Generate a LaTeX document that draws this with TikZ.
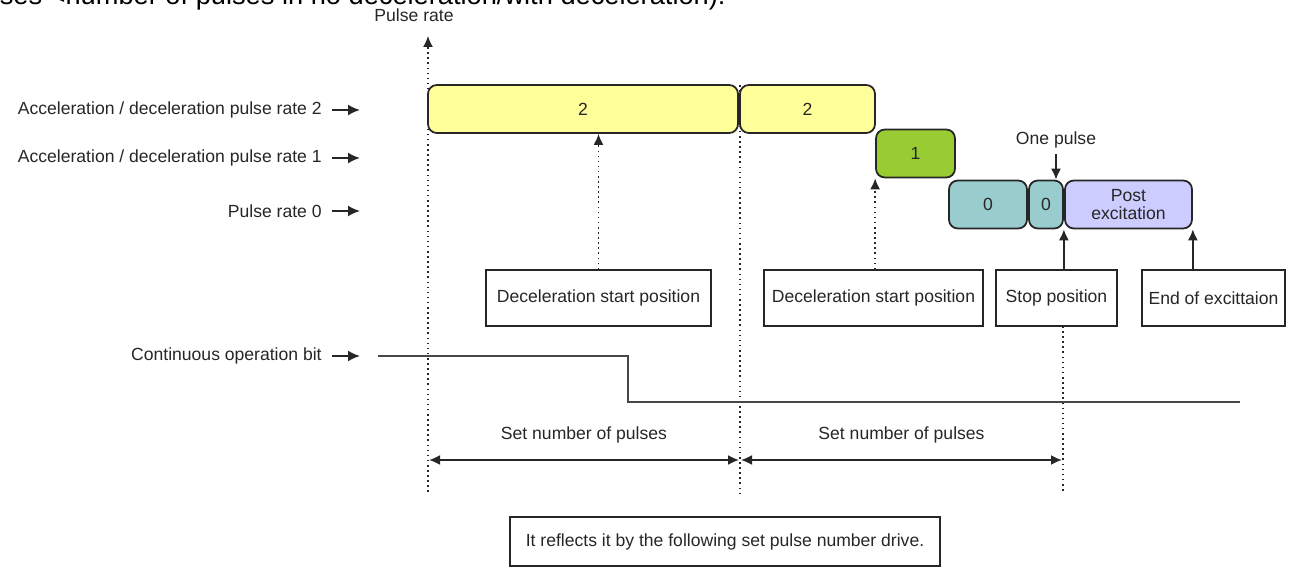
\documentclass[tikz,border=0pt]{standalone}
\usepackage{fontspec}
\setmainfont{Liberation Sans}
\usetikzlibrary{arrows.meta}
\definecolor{rate2}{HTML}{FFFF99}
\definecolor{rate1}{HTML}{99CC33}
\definecolor{rate0}{HTML}{99CCCC}
\definecolor{postex}{HTML}{CCCCFF}
\definecolor{ink}{HTML}{262626}
\tikzset{
  ratebox/.style={draw=ink, line width=1pt, rounded corners=5pt, minimum height=0.96cm, inner sep=0pt, align=center, text=ink},
  posbox/.style={draw=ink, line width=0.8pt, minimum height=1.12cm, inner sep=0pt, text=ink},
  lbl/.style={text=ink, inner sep=0pt, anchor=east},
  lblarrow/.style={ink, line width=1pt, -{Latex[length=2.4mm,width=2.2mm]}},
  ptr/.style={ink, line width=0.9pt, -{Latex[length=2.2mm,width=2mm]}},
  dimarrow/.style={ink, line width=1pt, {Latex[length=2.2mm,width=2mm]}-{Latex[length=2.2mm,width=2mm]}}
}
\begin{document}
\begin{tikzpicture}[x=0.02cm, y=-0.02cm, font=\fontsize{10}{12}\selectfont]
\useasboundingbox (0,0) rectangle (1289,567);

\node[anchor=base east, inner sep=0pt, text=black, font=\fontsize{15.5}{17}\selectfont] (head) at (726,5) {pulses <number of pulses in no deceleration/with deceleration):};

\coordinate (ax0) at (428,492);
\coordinate (ax1) at (428,36);
\node[text=ink, inner sep=1pt] (axlbl) at (414,15) {Pulse rate};
\draw[ink, dotted, line width=0.9pt, -{Latex[length=2.2mm,width=2mm]}] (ax0) -- (ax1);

\coordinate (m0) at (740,85);
\coordinate (m1) at (740,493);
\draw[ink, dotted, line width=0.9pt] (m0) -- (m1);

\node[ratebox, fill=rate2, minimum width=6.2cm] (r2a) at (583,109) {2};
\node[ratebox, fill=rate2, minimum width=2.7cm] (r2b) at (807.5,109) {2};
\node[ratebox, fill=rate1, minimum width=1.58cm] (r1) at (915.5,153.5) {1};
\node[ratebox, fill=rate0, minimum width=1.56cm] (r0a) at (988,204.5) {0};
\node[ratebox, fill=rate0, minimum width=0.68cm] (r0b) at (1046,204.5) {0};
\node[ratebox, fill=postex, minimum width=2.54cm] (post) at (1128.5,204.5) {Post\\[-2pt]excitation};

\node[lbl] (lab2) at (322,110) {Acceleration / deceleration pulse rate 2};
\node[lbl] (lab1) at (322,158) {Acceleration / deceleration pulse rate 1};
\node[lbl] (lab0) at (322,211) {Pulse rate 0};
\node[lbl] (labc) at (322,356) {Continuous operation bit};
\coordinate (tip2) at (360,110);
\coordinate (tip1) at (360,158);
\coordinate (tip0) at (360,211);
\coordinate (tipc) at (360,356);
\draw[lblarrow] ([xshift=0.2cm]lab2.east) -- (tip2);
\draw[lblarrow] ([xshift=0.2cm]lab1.east) -- (tip1);
\draw[lblarrow] ([xshift=0.2cm]lab0.east) -- (tip0);
\draw[lblarrow] ([xshift=0.2cm]labc.east) -- (tipc);

\node[posbox, minimum width=4.5cm] (decA) at (598.5,298) {Deceleration start position};
\node[posbox, minimum width=4.38cm] (decB) at (873.5,298) {Deceleration start position};
\node[posbox, minimum width=2.42cm] (stop) at (1056.5,298) {Stop position};
\node[posbox, minimum width=2.86cm] (endex) at (1213.5,298) {End of excittaion};

\draw[ptr, dotted] (decA.north) -- (decA.north |- r2a.south);
\draw[ptr, dotted] (decB.north -| r1.south west) -- (r1.south west);
\draw[ptr] (stop.north -| r0b.south east) -- (r0b.south east);
\draw[ptr] (endex.north -| post.south east) -- (post.south east);

\node[text=ink] (onep) at (1056,140) {One pulse};
\draw[ptr] (onep.south) -- (onep.south |- r0b.north);

\coordinate (s0) at (1063,326);
\coordinate (s1) at (1063,493);
\draw[ink, dotted, line width=0.9pt] (s0) -- (s1);

\draw[ink!85, line width=1.3pt] (378,356) -- (628,356) -- (628,402) -- (1240,402);

\coordinate (d0) at (429,460);
\coordinate (d1) at (739,460);
\coordinate (d2) at (741,460);
\coordinate (d3) at (1062,460);
\draw[dimarrow] (d0) -- node[above=6pt, text=ink] {Set number of pulses} (d1);
\draw[dimarrow] (d2) -- node[above=6pt, text=ink] {Set number of pulses} (d3);

\node[posbox, minimum width=8.6cm, minimum height=0.98cm] (note) at (725,541.5) {It reflects it by the following set pulse number drive.};
\end{tikzpicture}
\end{document}
